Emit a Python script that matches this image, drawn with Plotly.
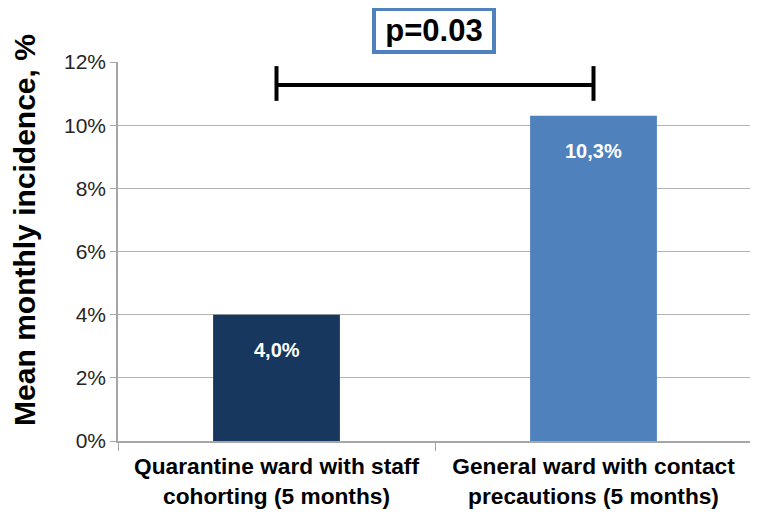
import plotly.graph_objects as go

categories = ["Quarantine ward with staff<br>cohorting (5 months)",
              "General ward with contact<br>precautions (5 months)"]
values = [0.040, 0.103]
value_labels = ["4,0%", "10,3%"]
bar_colors = ["#17375E", "#4F81BD"]
tick_vals = [0, 0.02, 0.04, 0.06, 0.08, 0.10, 0.12]
tick_text = ["0%", "2%", "4%", "6%", "8%", "10%", "12%"]
bracket_y = 0.1127
bracket_top = 0.1187
bracket_bottom = 0.1077
p_text = "p=0.03"
y_title = "Mean monthly incidence, %"

FONT = "Liberation Sans"

fig = go.Figure()
fig.add_trace(go.Bar(
    x=categories, y=values, marker=dict(color=bar_colors, line=dict(width=0)),
    width=0.4, showlegend=False, hoverinfo="skip"))

for c, v, t in zip(categories, values, value_labels):
    fig.add_annotation(x=c, y=v, text="<b>" + t + "</b>", showarrow=False,
                       yshift=-35, yanchor="middle",
                       font=dict(color="white", size=20, family=FONT))

line_style = dict(color="black", width=4)
fig.add_trace(go.Scatter(x=[categories[0], categories[1]], y=[bracket_y, bracket_y],
                         mode="lines", line=line_style, showlegend=False, cliponaxis=False))
for c in categories:
    fig.add_trace(go.Scatter(x=[c, c], y=[bracket_bottom, bracket_top], mode="lines",
                             line=line_style, showlegend=False, cliponaxis=False))

fig.add_annotation(text="<b>" + p_text + "</b>", xref="paper", yref="paper",
                   x=0.498, y=1.082, xanchor="center", yanchor="middle",
                   showarrow=False, width=110, height=33,
                   font=dict(size=31, color="black", family=FONT),
                   bordercolor="#4F81BD", borderwidth=4, borderpad=3, bgcolor="white")

fig.add_annotation(text="<b>" + y_title + "</b>", xref="paper", yref="paper",
                   x=-0.1467, y=0.557, showarrow=False, textangle=-90,
                   xanchor="center", yanchor="middle",
                   font=dict(size=30, color="black", family=FONT))

# page body has an 8px margin; figure is sized so the plot lands where the reference has it
fig.update_layout(
    width=750, height=508, margin=dict(l=110, r=6, t=54, b=75),
    plot_bgcolor="white", paper_bgcolor="white",
    font=dict(family=FONT, color="black"),
    xaxis=dict(showline=True, linecolor="#A6A6A6", linewidth=1.5, automargin=False,
               ticks="outside", tickson="boundaries", ticklen=8, tickcolor="#A6A6A6",
               ticklabelstandoff=4,
               tickfont=dict(size=22.7, family=FONT, color="black"),
               tickprefix="<b>", ticksuffix="</b>"),
    yaxis=dict(range=[0, 0.12], tickvals=tick_vals, ticktext=tick_text, automargin=False,
               showgrid=True, gridcolor="#B3B3B3", gridwidth=1,
               showline=True, linecolor="#A6A6A6", linewidth=1.5,
               ticks="outside", ticklen=6, tickcolor="#A6A6A6",
               tickfont=dict(size=21, color="#262626"),
               zeroline=False),
)

fig.write_html("out.html")
